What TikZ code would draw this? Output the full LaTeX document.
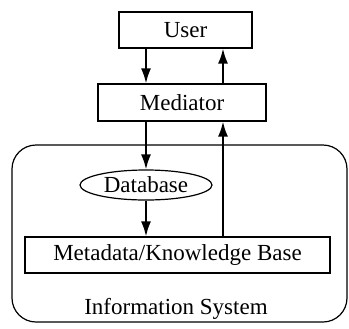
\documentclass[tikz,border=0pt]{standalone}
\usepackage{fontspec}
\setmainfont{Liberation Serif}
\usetikzlibrary{arrows.meta,positioning,shapes.geometric}
\tikzset{font=\fontsize{11.5}{13}\selectfont}
\tikzstyle{box}=[draw,line width=0.6pt,inner sep=0pt]
\begin{document}
\begin{tikzpicture}[x=0.5pt,y=-0.5pt,>={Latex[length=7.5pt,width=5pt]}]
\useasboundingbox (0,0) rectangle (349,328);
\node[box,rounded corners=12pt,minimum width=167.5pt,minimum height=88.5pt] (sys) at (179.5,233.5) {};
\node (U) [box,minimum width=66.5pt,minimum height=18pt] at (185.5,30) {User};
\node (M) [box,minimum width=84pt,minimum height=18.5pt] at (182,102.5) {Mediator};
\node (D) [draw,ellipse,line width=0.6pt,inner sep=0pt,minimum width=66pt,minimum height=15pt] at (146,185) {Database};
\node (K) [box,minimum width=152.5pt,minimum height=18pt] at (177.5,255) {Metadata/Knowledge Base};
\node (L) at (176,309) {Information System};
\coordinate (r) at (223,0);
\path[->,line width=0.9pt]
(U.south -| D) edge (M.north -| D)
(M.north -| r) edge (U.south -| r)
(M.south -| D) edge (D.north)
(D.south) edge (K.north -| D)
(K.north -| r) edge (M.south -| r);
\end{tikzpicture}
\end{document}
